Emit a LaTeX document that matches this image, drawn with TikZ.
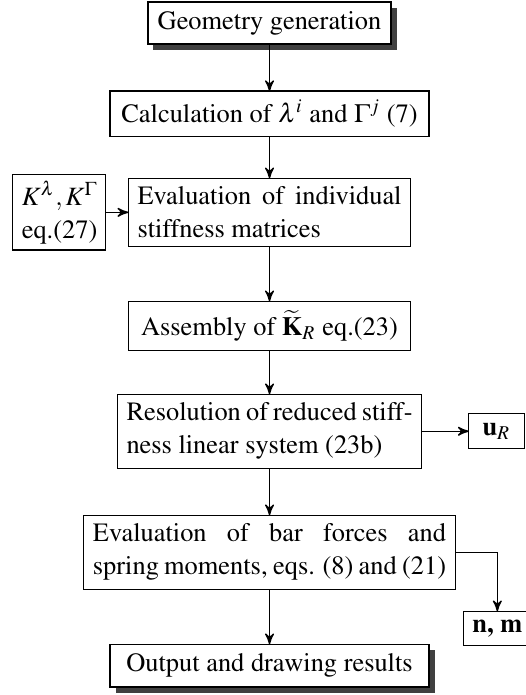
\documentclass[tikz,border=0pt]{standalone}
\usepackage[T1]{fontenc}
\usepackage{mathptmx}
\usepackage{amsmath}
\usepackage{tikz}
\usetikzlibrary{shapes,arrows,positioning,calc,shadows}
\tikzstyle{process} = [rectangle, draw=black, line width=0.5pt, inner ysep=1.5pt, outer sep=0pt, text centered, fill=white]
\tikzstyle{shadowed} = [general shadow={fill=black!75, shadow xshift=2pt, shadow yshift=-2.1pt}]
\tikzstyle{data} = [rectangle, draw=black, line width=0.5pt, inner ysep=1.5pt, outer sep=0pt, fill=white]
\tikzstyle{arrow} = [line width=0.5pt,->,>=stealth']

\begin{document}
\begin{tikzpicture}[font=\fontsize{9.6pt}{12pt}\selectfont, >=stealth']
\useasboundingbox (0,0) rectangle (190.9pt,-252.7pt);

% Colonna principale
\node (geom) [process, shadowed, minimum width=88.4pt, minimum height=15.3pt] at (98pt,-8.4pt) {Geometry generation};
\node (calc) [process, below=17.1pt of geom, minimum width=116pt, minimum height=16.4pt] {Calculation of $\lambda^i$ and $\Gamma^j$ (7)};
\node (evalk) [process, below=15.3pt of calc, text width=96pt, align=justify, minimum height=24.7pt] {Evaluation of individual\linebreak stiffness matrices};
\node (assembly) [process, below=20pt of evalk, minimum width=102.5pt, minimum height=17.8pt] {Assembly of $\widetilde{\mathbf{K}}_R$ eq.(23)};
\node (resol) [process, below=16pt of assembly, text width=104pt, align=justify, minimum height=26.9pt] {Resolution of reduced stiff-\linebreak ness linear system (23b)};
\node (forces) [process, below=17.1pt of resol, text width=128.4pt, align=justify, minimum height=26.9pt] {Evaluation of bar forces and\linebreak spring moments, eqs. (8) and (21)};
\node (output) [process, shadowed, below=20pt of forces, minimum width=116pt, minimum height=15.6pt] {Output and drawing results};

% Dati laterali
\node (kmat) [data, left=8.4pt of evalk, text width=27pt, align=left, minimum height=27.3pt] {$K^\lambda, K^\Gamma$\\eq.(27)};
\node (ured) [data, right=17.1pt of resol, minimum width=20.2pt, minimum height=12.7pt] {$\mathbf{u}_R$};
\node (nm) [data, below right=8pt and 2.9pt of forces, minimum width=22.2pt, minimum height=12.4pt] {\textbf{n, m}};

% Connessioni
\draw [arrow] (geom) -- (calc);
\draw [arrow] (calc) -- (evalk);
\draw [arrow] (kmat) -- (evalk);
\draw [arrow] (evalk) -- (assembly);
\draw [arrow] (assembly) -- (resol);
\draw [arrow] (resol) -- (ured);
\draw [arrow] (resol) -- (forces);
\draw [arrow] (forces) -- (output);
\draw [arrow] (forces.east) -| (nm.north);

\end{tikzpicture}
\end{document}
